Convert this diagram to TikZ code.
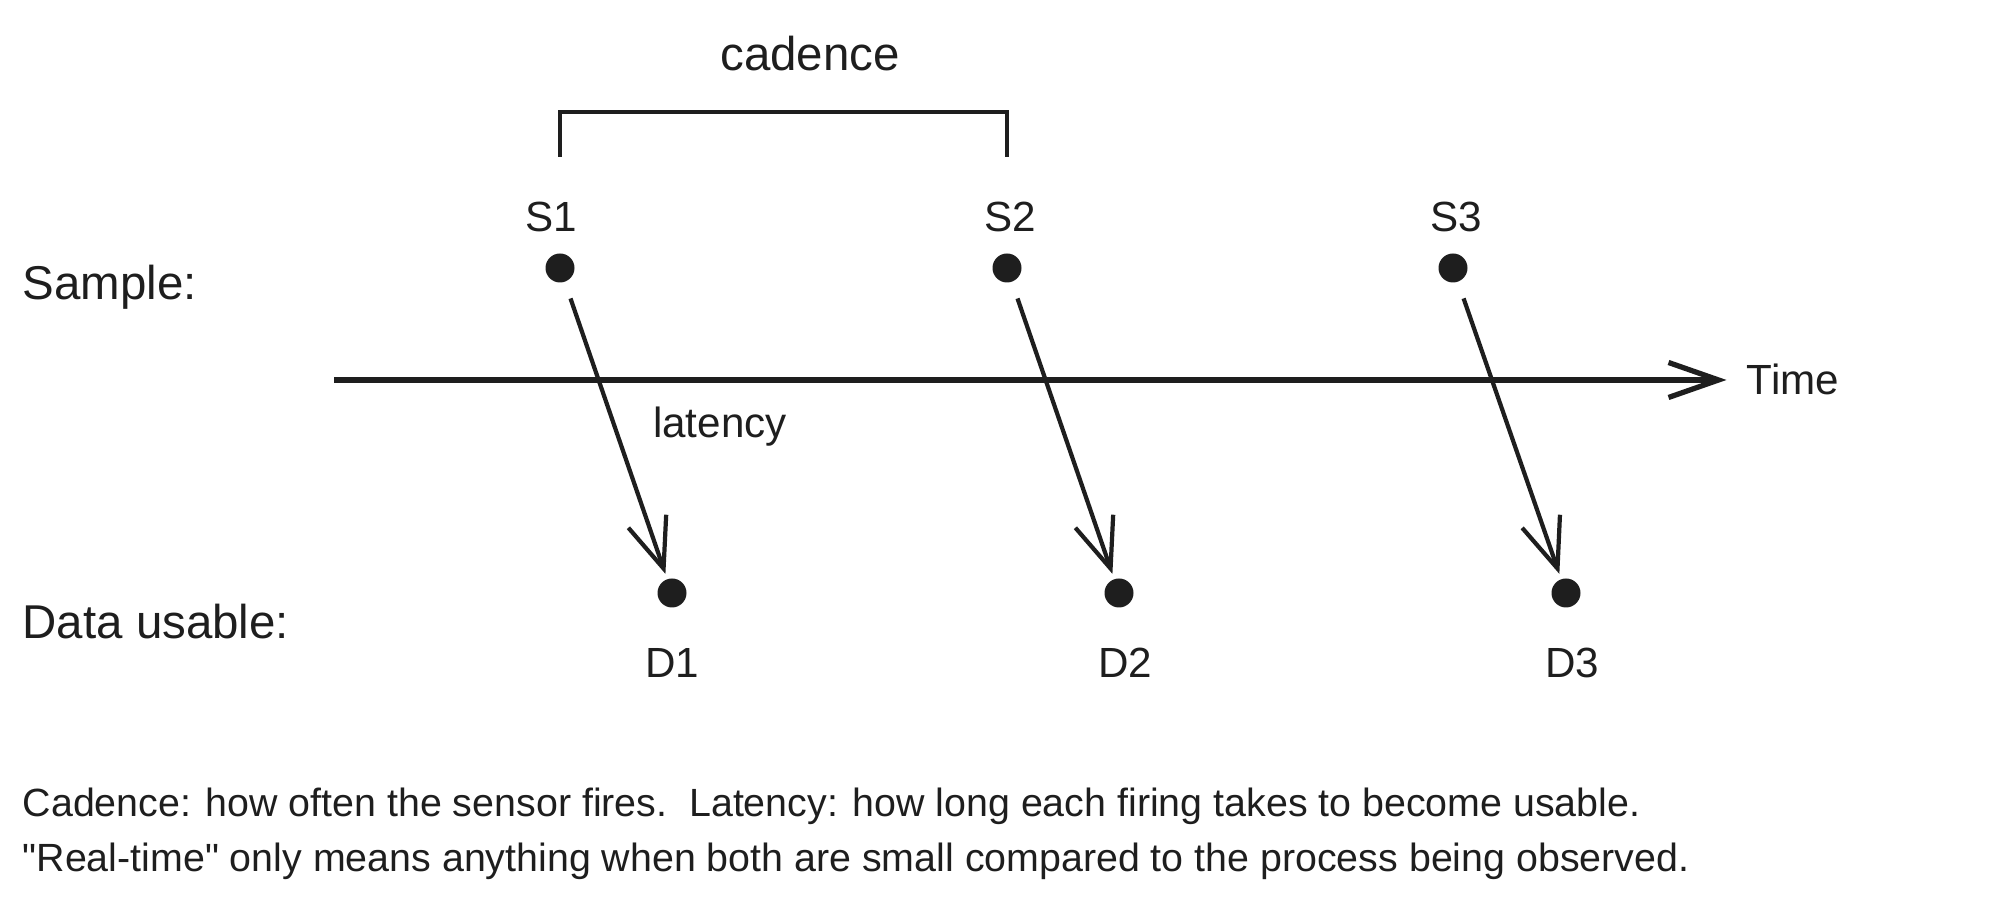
\documentclass[tikz,border=0pt]{standalone}
\usepackage{fontspec}
\setmainfont{Liberation Sans}[Ligatures=TeXOff]
\usepackage{xcolor}
\usepackage{tikz}
\usetikzlibrary{arrows.meta,positioning}
\definecolor{ink}{HTML}{1E1E1E}

\begin{document}
\begin{tikzpicture}[x=1cm,y=1cm,
	dot/.style={circle,fill=ink,inner sep=0pt,minimum size=2.9mm},
	tag/.style={text=ink,font=\fontsize{12}{14}\selectfont},
	rowtag/.style={text=ink,anchor=west,inner sep=0pt,font=\fontsize{13.5}{16}\selectfont},
	note/.style={text=ink,anchor=west,inner sep=0pt,font=\fontsize{11.2}{13}\selectfont},
	flow/.style={draw=ink,line width=1.2pt,-{Straight Barb[length=5mm,width=4mm]},shorten <=1.7mm,shorten >=0.5mm},
	timeline/.style={draw=ink,line width=1.5pt,-{Straight Barb[length=5mm,width=3.5mm]}},
	bracket/.style={draw=ink,line width=1.1pt}]
	\useasboundingbox (0,0) rectangle (19.99,9.07);
	% samples
	\node[dot] (s1) at (5.60,6.39) {};
	\node[dot] (s2) at (10.07,6.39) {};
	\node[dot] (s3) at (14.53,6.39) {};
	\node[tag] (s1 label) at ([xshift=-0.9mm,yshift=5.1mm]s1.center) {S1};
	\node[tag] (s2 label) at ([xshift=0.3mm,yshift=5.1mm]s2.center) {S2};
	\node[tag] (s3 label) at ([xshift=0.3mm,yshift=5.1mm]s3.center) {S3};
	% data usable
	\node[dot] (d1) at (6.72,3.14) {};
	\node[dot] (d2) at (11.19,3.14) {};
	\node[dot] (d3) at (15.66,3.14) {};
	\node[tag] (d1 label) at ([yshift=-7mm]d1.center) {D1};
	\node[tag] (d2 label) at ([xshift=0.6mm,yshift=-7mm]d2.center) {D2};
	\node[tag] (d3 label) at ([xshift=0.6mm,yshift=-7mm]d3.center) {D3};
	% row names
	\node[rowtag] (sample) at (0.22,6.20) {Sample:};
	\node[rowtag] (usable) at (0.22,2.85) {Data usable:};
	% time axis
	\coordinate (axis start) at (3.34,5.27);
	\node[tag] (time) at (17.93,5.28) {Time};
	\draw[timeline,shorten >=0.8mm] (axis start) -- (axis start -| time.west);
	% cadence bracket
	\draw[bracket] ([yshift=11.1mm]s1.center) -- ([yshift=15.6mm]s1.center) -- ([yshift=15.6mm]s2.center) -- ([yshift=11.1mm]s2.center);
	\node[tag,font=\fontsize{13.5}{16}\selectfont] (cadence) at (8.10,8.53) {cadence};
	% latency arrows
	\draw[flow] (s1) -- (d1);
	\draw[flow] (s2) -- (d2);
	\draw[flow] (s3) -- (d3);
	\node[tag] (latency) at (7.20,4.80) {latency};
	% caption
	\node[note] (note1) at (0.22,1.01) {Cadence: how often the sensor fires.\ \ Latency: how long each firing takes to become usable.};
	\node[note] (note2) at (0.22,0.46) {"Real-time" only means anything when both are small compared to the process being observed.};
\end{tikzpicture}
\end{document}
